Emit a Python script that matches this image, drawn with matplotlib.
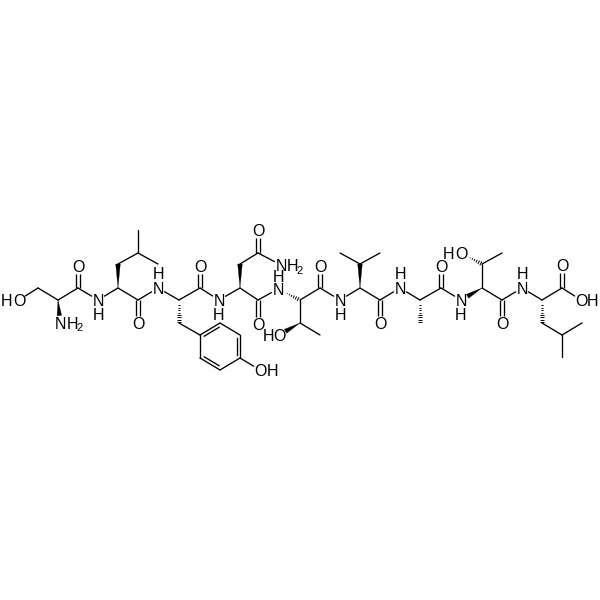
import matplotlib
matplotlib.use('Agg')
import matplotlib.pyplot as plt
import numpy as np

# atom positions in image pixels
atom_names = ['OG1', 'CB1', 'CA1', 'N1', 'C1', 'O1', 'N2',
              'CA2', 'CB2', 'CG2', 'CD21', 'CD22', 'C2', 'O2', 'N3',
              'CA3', 'CB3', 'CR1', 'CR2', 'CR3', 'CR4', 'CR5', 'CR6', 'OH3', 'C3', 'O3', 'N4',
              'CA4', 'CB4', 'CG4', 'OD4', 'ND4', 'C4', 'O4', 'N5',
              'CA5', 'CB5', 'OG5', 'CG5', 'C5', 'O5', 'N6',
              'CA6', 'CB6', 'CG61', 'CG62', 'C6', 'O6', 'N7',
              'CA7', 'CB7', 'C7', 'O7', 'N8',
              'CA8', 'CB8', 'OG8', 'CG8', 'C8', 'O8', 'N9',
              'CA9', 'CB9', 'CG9', 'CD91', 'CD92', 'C9', 'O9', 'OXT']
atom_x = [19, 38, 58, 60, 78, 78, 98,
          118, 118, 138, 138, 158, 138, 138, 158,
          179, 179, 200, 220, 240, 240, 220, 200, 260, 200, 200, 219,
          240, 240, 258, 258, 281, 258, 258, 278,
          300, 300, 279, 320, 320, 320, 340,
          360, 360, 340, 380, 380, 380, 400,
          420, 420, 441, 441, 461,
          482, 482, 461, 502, 502, 502, 522,
          542, 542, 562, 582, 562, 562, 562, 581]
atom_y = [300, 288, 300, 323, 288, 266, 300,
          288, 264, 253, 230, 264, 300, 323, 288,
          300, 323, 335, 323, 335, 358, 370, 358, 370, 288, 266, 300,
          288, 264, 253, 230, 265, 300, 324, 289,
          300, 323, 335, 335, 288, 266, 300,
          288, 264, 253, 253, 300, 323, 288,
          300, 323, 288, 266, 300,
          288, 264, 253, 253, 300, 323, 288,
          300, 323, 335, 323, 357, 288, 265, 300]

single_bonds = [('OG1', 'CB1'), ('CB1', 'CA1'), ('CA1', 'C1'), ('C1', 'N2'), ('N2', 'CA2'),
                ('CB2', 'CG2'), ('CG2', 'CD21'), ('CG2', 'CD22'), ('CA2', 'C2'), ('C2', 'N3'), ('N3', 'CA3'),
                ('CB3', 'CR1'), ('CR2', 'CR3'), ('CR4', 'CR5'), ('CR6', 'CR1'), ('CR4', 'OH3'),
                ('CA3', 'C3'), ('C3', 'N4'), ('N4', 'CA4'), ('CB4', 'CG4'), ('CG4', 'ND4'),
                ('CA4', 'C4'), ('C4', 'N5'), ('CA5', 'CB5'), ('CB5', 'CG5'), ('CA5', 'C5'), ('C5', 'N6'),
                ('N6', 'CA6'), ('CB6', 'CG61'), ('CB6', 'CG62'), ('CA6', 'C6'), ('C6', 'N7'), ('N7', 'CA7'),
                ('CA7', 'C7'), ('C7', 'N8'), ('CA8', 'CB8'), ('CB8', 'CG8'), ('CA8', 'C8'), ('C8', 'N9'),
                ('N9', 'CA9'), ('CB9', 'CG9'), ('CG9', 'CD91'), ('CG9', 'CD92'), ('CA9', 'C9'), ('C9', 'OXT')]
double_bonds = [('C1', 'O1'), ('C2', 'O2'), ('C3', 'O3'), ('CG4', 'OD4'), ('C4', 'O4'),
                ('C5', 'O5'), ('C6', 'O6'), ('C7', 'O7'), ('C8', 'O8'), ('C9', 'O9')]
ring_double_bonds = [('CR1', 'CR2'), ('CR3', 'CR4'), ('CR5', 'CR6')]
# narrow end first
wedge_bonds = [('CA1', 'N1'), ('CA2', 'CB2'), ('CA4', 'CB4'), ('CB5', 'OG5'), ('CA6', 'CB6'), ('CA8', 'N8')]
hash_bonds = [('CA3', 'CB3'), ('N5', 'CA5'), ('CA7', 'CB7'), ('OG8', 'CB8'), ('CA9', 'CB9')]

# label pieces, one line per residue
label_text = ['H', 'O', 'N', 'H', '2', 'O', 'N', 'H',
              'O', 'N', 'H',
              'O', 'N', 'H', 'O', 'H',
              'O', 'N', 'H', '2', 'O', 'N', 'H',
              'H', 'O', 'O', 'N', 'H',
              'O', 'N', 'H',
              'O', 'N', 'H',
              'H', 'O', 'O', 'N', 'H',
              'O', 'O', 'H']
label_x = [7, 19, 60, 72, 80, 78, 98, 98,
           138, 158, 158,
           200, 219, 219, 260, 272,
           258, 281, 292, 300, 258, 278, 278,
           268, 279, 320, 340, 340,
           380, 400, 400,
           441, 461, 461,
           449, 461, 502, 522, 522,
           562, 581, 593]
label_y = [300, 300, 323, 323, 327, 266, 300, 314,
           323, 288, 273,
           266, 300, 314, 370, 370,
           230, 265, 265, 270, 324, 289, 276,
           335, 335, 266, 300, 314,
           323, 288, 273,
           266, 300, 314,
           253, 253, 323, 288, 273,
           265, 300, 300]
label_size = 11.5
sub_size = 8

clear_radius = {'O': 7.5, 'N': 7.5}
pos = {n: np.array([x, y], float) for n, x, y in zip(atom_names, atom_x, atom_y)}

fig = plt.figure(figsize=(6, 6), dpi=100)
ax = fig.add_axes([0, 0, 1, 1])
ax.set_xlim(0, 600)
ax.set_ylim(600, 0)
ax.axis('off')
lw = 0.95


def trimmed(a, b):
    # shorten a bond where it runs into an atom label
    p, q = pos[a].copy(), pos[b].copy()
    u = (q - p) / np.linalg.norm(q - p)
    if a[0] in clear_radius:
        p = p + u * clear_radius[a[0]]
    if b[0] in clear_radius:
        q = q - u * clear_radius[b[0]]
    return p, q, u


for a, b in single_bonds:
    p, q, u = trimmed(a, b)
    ax.plot([p[0], q[0]], [p[1], q[1]], color='black', lw=lw, solid_capstyle='round')

for a, b in double_bonds:
    p, q, u = trimmed(a, b)
    n = np.array([-u[1], u[0]])
    for s in (-1.7, 1.7):
        ax.plot([p[0] + n[0] * s, q[0] + n[0] * s], [p[1] + n[1] * s, q[1] + n[1] * s],
                color='black', lw=lw, solid_capstyle='butt')

ring_centre = np.array([220, 346.5])
for a, b in ring_double_bonds:
    p, q, u = trimmed(a, b)
    ax.plot([p[0], q[0]], [p[1], q[1]], color='black', lw=lw, solid_capstyle='round')
    n = np.array([-u[1], u[0]])
    if np.dot(n, ring_centre - p) < 0:
        n = -n
    p2, q2 = p + n * 3.2 + u * 3, q + n * 3.2 - u * 3
    ax.plot([p2[0], q2[0]], [p2[1], q2[1]], color='black', lw=lw)

for a, b in wedge_bonds:
    p, q, u = trimmed(a, b)
    n = np.array([-u[1], u[0]])
    ax.fill([p[0], q[0] + n[0] * 2.3, q[0] - n[0] * 2.3],
            [p[1], q[1] + n[1] * 2.3, q[1] - n[1] * 2.3], color='black', lw=0.2)

for a, b in hash_bonds:
    p, q, u = trimmed(a, b)
    n = np.array([-u[1], u[0]])
    length = np.linalg.norm(q - p)
    for t in np.arange(0.5, length, 2.4):
        c = p + u * t
        w = 2.4 * t / length
        ax.plot([c[0] - n[0] * w, c[0] + n[0] * w], [c[1] - n[1] * w, c[1] + n[1] * w],
                color='black', lw=0.7, solid_capstyle='butt')

for t, x, y in zip(label_text, label_x, label_y):
    size = sub_size if t == '2' else label_size
    ax.text(x, y, t, fontsize=size, family='Liberation Sans', ha='center', va='center_baseline')

fig.savefig('out.png', dpi=100, facecolor='white')
